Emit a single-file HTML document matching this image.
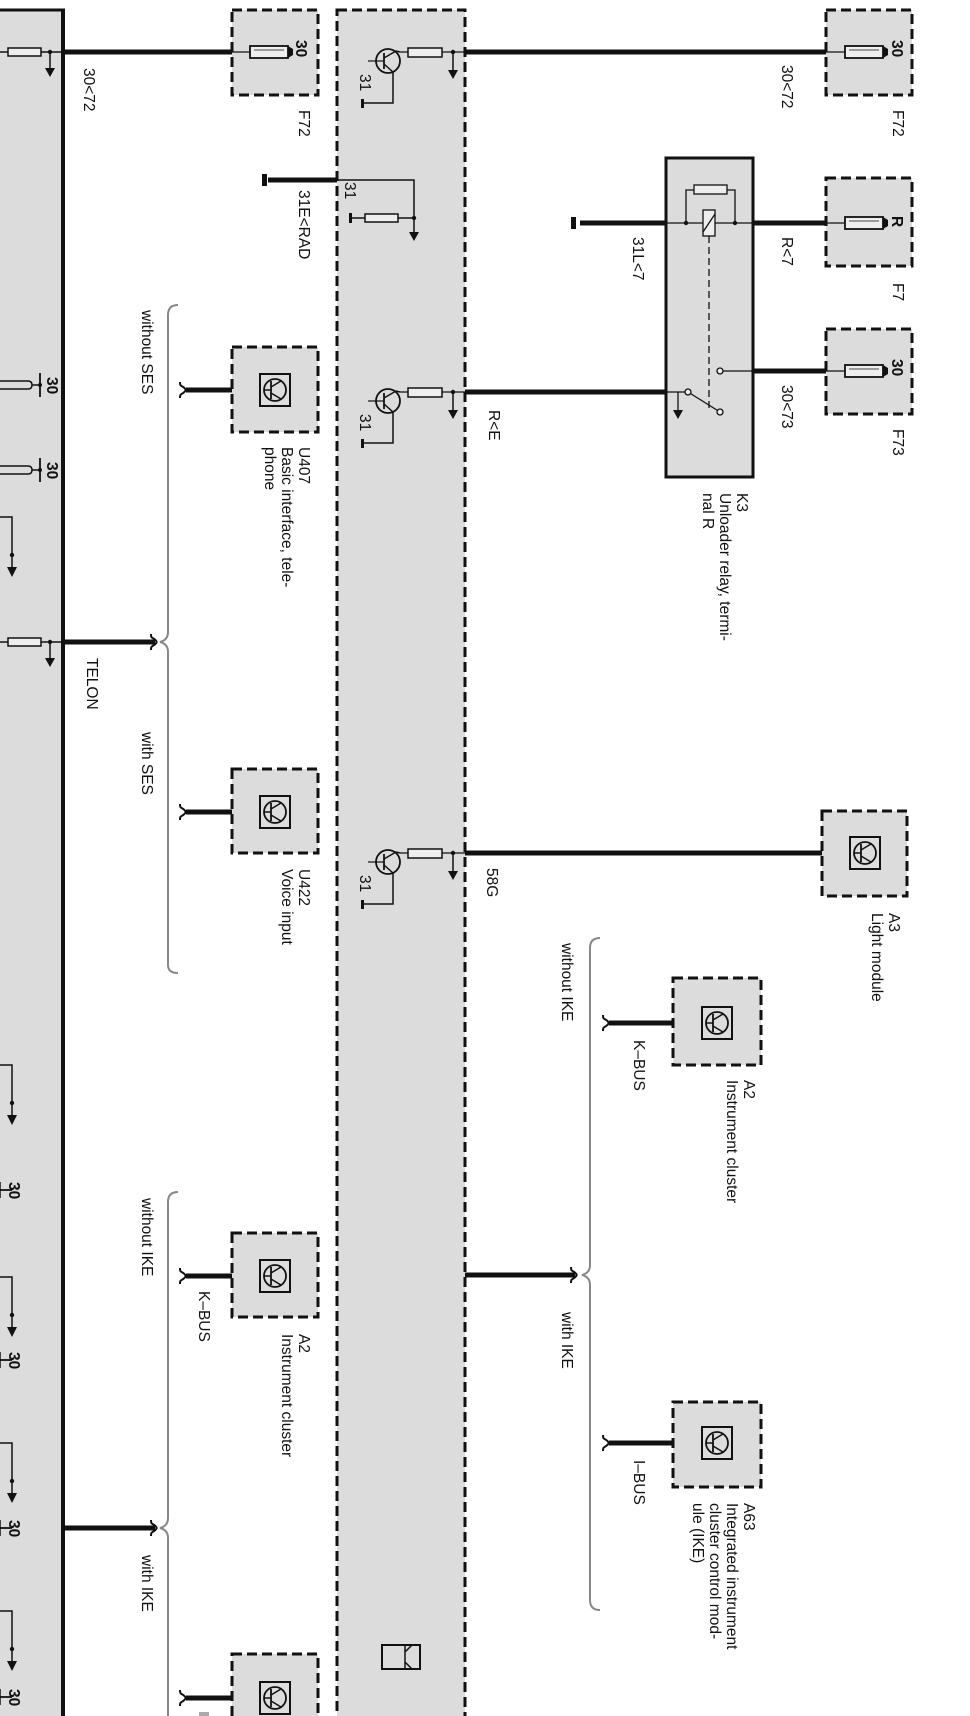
<!DOCTYPE html>
<html><head><meta charset="utf-8"><style>
html,body{margin:0;padding:0;background:#fff}
svg{display:block}
text{font-family:"Liberation Sans",sans-serif;font-size:15.5px;fill:#111}
</style></head><body>
<svg width="970" height="1716" viewBox="0 0 970 1716" xmlns="http://www.w3.org/2000/svg">
<defs>
<g id="fuse"><rect x="0" y="-6" width="38" height="12" fill="#eee" stroke="#111" stroke-width="1.8"/><line x1="4" y1="-2" x2="34" y2="-2" stroke="#111" stroke-width="0.8"/><path d="M38,-6 L43,-3 L43,3 L38,6 Z" fill="#111"/></g>
<g id="mod"><rect x="-15" y="-16" width="30" height="32" fill="#ddd" stroke="#111" stroke-width="2"/><circle cx="0" cy="0" r="11" fill="none" stroke="#111" stroke-width="1.8"/><line x1="-4" y1="-9" x2="-4" y2="9" stroke="#111" stroke-width="1.8"/><line x1="-11" y1="0" x2="-4" y2="0" stroke="#111" stroke-width="1.5"/><path d="M-4,-3 L6,-9 M-4,3 L6,9" stroke="#111" stroke-width="1.5" fill="none"/></g>
<g id="tr">
<line x1="400" y1="0" x2="465" y2="0" stroke="#111" stroke-width="1.2"/>
<rect x="408" y="-4" width="34" height="9" fill="#eee" stroke="#111" stroke-width="1.5"/>
<circle cx="453" cy="0" r="2.2" fill="#111"/>
<line x1="453" y1="0" x2="453" y2="22" stroke="#111" stroke-width="1.5"/>
<path d="M448,18 L458,18 L453,27 Z" fill="#111"/>
<circle cx="388" cy="9" r="12" fill="none" stroke="#111" stroke-width="1.8"/>
<line x1="384" y1="1" x2="384" y2="17" stroke="#111" stroke-width="1.8"/>
<line x1="368" y1="9" x2="384" y2="9" stroke="#111" stroke-width="1.2"/>
<path d="M384,6 L396,-1 L400,0 M384,12 L393,20" stroke="#111" stroke-width="1.5" fill="none"/>
<path d="M393,20 L393,51 L364,51" stroke="#111" stroke-width="1.5" fill="none"/>
<rect x="361" y="47" width="3" height="9" fill="#111"/>
<text transform="translate(360,22) rotate(90)" font-size="14">31</text>
</g>
<g id="br"><path d="M0,0 L12,0 L12,56" stroke="#111" stroke-width="1.5" fill="none"/><circle cx="12" cy="38" r="2.2" fill="#111"/><path d="M7,50 L17,50 L12,60 Z" fill="#111"/></g>
<g id="u30"><path d="M0,-4 L28,-4 Q32,-4 32,0 Q32,4 28,4 L0,4" stroke="#111" stroke-width="1.5" fill="none"/><line x1="32" y1="0" x2="40" y2="0" stroke="#111" stroke-width="1.5"/><line x1="40" y1="-12" x2="40" y2="12" stroke="#111" stroke-width="1.8"/><circle cx="40" cy="0" r="2" fill="#111"/><text transform="translate(47,-8) rotate(90)" font-size="13" font-weight="bold">30</text></g>
<g id="t30"><line x1="0" y1="0" x2="12" y2="0" stroke="#111" stroke-width="1.8"/><line x1="0" y1="-8" x2="0" y2="8" stroke="#111" stroke-width="1.5"/><text transform="translate(9,-8) rotate(90)" font-size="13" font-weight="bold">30</text></g>
<g id="hook"><path d="M0,0 C-4,-6 -6,-2 -6,-8 M0,0 C-4,6 -6,2 -6,8" stroke="#111" stroke-width="2" fill="none"/></g>
</defs>

<rect x="0" y="10" width="63" height="1706" fill="#dcdcdc"/>
<line x1="63" y1="10" x2="63" y2="1716" stroke="#111" stroke-width="4"/>
<line x1="0" y1="10" x2="65" y2="10" stroke="#111" stroke-width="3"/>
<g stroke="#111" stroke-width="1.5" fill="none">
<line x1="0" y1="52" x2="63" y2="52"/><rect x="8" y="48" width="33" height="8" fill="#eee"/>
<line x1="50" y1="52" x2="50" y2="72"/>
<line x1="0" y1="642" x2="63" y2="642"/><rect x="8" y="638" width="33" height="8" fill="#eee"/>
<line x1="50" y1="642" x2="50" y2="662"/>
</g>
<circle cx="50" cy="52" r="2.2" fill="#111"/><path d="M45,68 L55,68 L50,77 Z" fill="#111"/>
<circle cx="50" cy="642" r="2.2" fill="#111"/><path d="M45,658 L55,658 L50,667 Z" fill="#111"/>
<use href="#u30" x="0" y="385"/>
<use href="#u30" x="0" y="470"/>
<use href="#br" x="0" y="517"/>
<use href="#br" x="0" y="1065"/>
<use href="#br" x="0" y="1277"/>
<use href="#br" x="0" y="1443"/>
<use href="#br" x="0" y="1611"/>
<use href="#t30" x="0" y="1190"/>
<use href="#t30" x="0" y="1360"/>
<use href="#t30" x="0" y="1528"/>
<use href="#t30" x="0" y="1697"/>

<rect x="337" y="10" width="128" height="1720" fill="#dcdcdc" stroke="#111" stroke-width="3" stroke-dasharray="10 5"/>
<use href="#tr" x="0" y="52"/>
<use href="#tr" x="0" y="392"/>
<use href="#tr" x="0" y="853"/>
<g stroke="#111" stroke-width="1.5" fill="none">
<path d="M337,180 L414,180 L414,232"/>
<line x1="352" y1="218" x2="414" y2="218"/>
<rect x="365" y="214" width="33" height="8" fill="#eee"/>
</g>
<circle cx="414" cy="218" r="2.2" fill="#111"/>
<path d="M409,232 L419,232 L414,241 Z" fill="#111"/>
<rect x="349" y="213" width="3" height="10" fill="#111"/>
<text transform="translate(345,182) rotate(90)" font-size="14">31</text>
<rect x="382" y="1645" width="38" height="24" fill="none" stroke="#111" stroke-width="2"/>
<path d="M405,1645 L405,1669 M405,1652 L412,1645 M405,1662 L412,1669" stroke="#111" stroke-width="1.5" fill="none"/>

<rect x="232" y="10" width="86" height="85" fill="#dcdcdc" stroke="#111" stroke-width="3" stroke-dasharray="10 5"/>
<line x1="63" y1="52" x2="232" y2="52" stroke="#111" stroke-width="5"/>
<line x1="232" y1="52" x2="250" y2="52" stroke="#111" stroke-width="1.2"/>
<use href="#fuse" x="250" y="52"/>
<text transform="translate(296,40) rotate(90)" font-size="14" font-weight="bold">30</text>
<text transform="translate(84,68) rotate(90)">30&lt;72</text>
<text transform="translate(299,110) rotate(90)">F72</text>
<line x1="268" y1="180" x2="337" y2="180" stroke="#111" stroke-width="5"/>
<rect x="262" y="174" width="5" height="12" fill="#111"/>
<text transform="translate(299,190) rotate(90)">31E&lt;RAD</text>

<line x1="465" y1="52" x2="826" y2="52" stroke="#111" stroke-width="5"/>
<rect x="826" y="10" width="86" height="85" fill="#dcdcdc" stroke="#111" stroke-width="3" stroke-dasharray="10 5"/>
<line x1="826" y1="52" x2="845" y2="52" stroke="#111" stroke-width="1.2"/>
<use href="#fuse" x="845" y="52"/>
<text transform="translate(892,40) rotate(90)" font-size="14" font-weight="bold">30</text>
<text transform="translate(782,65) rotate(90)">30&lt;72</text>
<text transform="translate(893,110) rotate(90)">F72</text>

<rect x="666" y="158" width="87" height="319" fill="#dcdcdc" stroke="#111" stroke-width="3"/>
<line x1="580" y1="223" x2="666" y2="223" stroke="#111" stroke-width="5"/>
<rect x="571" y="217" width="5" height="12" fill="#111"/>
<line x1="753" y1="223" x2="826" y2="223" stroke="#111" stroke-width="5"/>
<g stroke="#111" stroke-width="1.3" fill="none">
<line x1="666" y1="223" x2="753" y2="223"/>
<path d="M686,223 L686,190 L735,190 L735,223"/>
<rect x="694" y="185" width="33" height="9" fill="#eee"/>
<rect x="703" y="210" width="12" height="26" fill="#eee"/>
<line x1="703" y1="232" x2="715" y2="214"/>
<line x1="709" y1="236" x2="709" y2="412" stroke-dasharray="7 4"/>
<line x1="720" y1="371" x2="753" y2="371"/>
<line x1="666" y1="392" x2="688" y2="392"/>
<line x1="688" y1="392" x2="720" y2="412"/>
<line x1="678" y1="392" x2="678" y2="412"/>
<circle cx="720" cy="371" r="3" fill="#eee"/>
<circle cx="688" cy="392" r="3" fill="#eee"/>
<circle cx="720" cy="412" r="3" fill="#eee"/>
</g>
<circle cx="686" cy="223" r="2.2" fill="#111"/><circle cx="735" cy="223" r="2.2" fill="#111"/>
<path d="M673,410 L683,410 L678,419 Z" fill="#111"/>
<line x1="753" y1="371" x2="826" y2="371" stroke="#111" stroke-width="5"/>
<line x1="465" y1="392" x2="666" y2="392" stroke="#111" stroke-width="5"/>
<text transform="translate(633,237) rotate(90)">31L&lt;7</text>
<text transform="translate(782,237) rotate(90)">R&lt;7</text>
<text transform="translate(782,385) rotate(90)">30&lt;73</text>
<text transform="translate(489,410) rotate(90)">R&lt;E</text>
<text transform="translate(737,493) rotate(90)">K3</text>
<text transform="translate(720,493) rotate(90)">Unloader relay, termi-</text>
<text transform="translate(703,493) rotate(90)">nal R</text>
<rect x="826" y="178" width="86" height="88" fill="#dcdcdc" stroke="#111" stroke-width="3" stroke-dasharray="10 5"/>
<line x1="826" y1="223" x2="845" y2="223" stroke="#111" stroke-width="1.2"/>
<use href="#fuse" x="845" y="223"/>
<text transform="translate(892,216) rotate(90)" font-size="14" font-weight="bold">R</text>
<text transform="translate(893,283) rotate(90)">F7</text>
<rect x="826" y="329" width="86" height="85" fill="#dcdcdc" stroke="#111" stroke-width="3" stroke-dasharray="10 5"/>
<line x1="826" y1="371" x2="845" y2="371" stroke="#111" stroke-width="1.2"/>
<use href="#fuse" x="845" y="371"/>
<text transform="translate(892,359) rotate(90)" font-size="14" font-weight="bold">30</text>
<text transform="translate(893,429) rotate(90)">F73</text>

<path d="M178,305 Q168,305 168,315 L168,632 Q168,640 160,642 Q168,644 168,652 L168,965 Q168,973 178,973" stroke="#888" stroke-width="2" fill="none"/>
<text transform="translate(142,310) rotate(90)">without SES</text>
<text transform="translate(142,732) rotate(90)">with SES</text>
<line x1="63" y1="642" x2="155" y2="642" stroke="#111" stroke-width="5"/>
<use href="#hook" x="157" y="642"/>
<text transform="translate(87,658) rotate(90)">TELON</text>
<rect x="232" y="347" width="86" height="85" fill="#dcdcdc" stroke="#111" stroke-width="3" stroke-dasharray="10 5"/>
<line x1="186" y1="390" x2="232" y2="390" stroke="#111" stroke-width="5"/>
<use href="#hook" x="186" y="390"/>
<use href="#mod" x="275" y="390"/>
<text transform="translate(299,447) rotate(90)">U407</text>
<text transform="translate(282,447) rotate(90)">Basic interface, tele-</text>
<text transform="translate(265,447) rotate(90)">phone</text>
<rect x="232" y="769" width="86" height="84" fill="#dcdcdc" stroke="#111" stroke-width="3" stroke-dasharray="10 5"/>
<line x1="186" y1="812" x2="232" y2="812" stroke="#111" stroke-width="5"/>
<use href="#hook" x="186" y="812"/>
<use href="#mod" x="275" y="812"/>
<text transform="translate(299,869) rotate(90)">U422</text>
<text transform="translate(282,869) rotate(90)">Voice input</text>

<line x1="465" y1="853" x2="822" y2="853" stroke="#111" stroke-width="5"/>
<rect x="822" y="811" width="85" height="85" fill="#dcdcdc" stroke="#111" stroke-width="3" stroke-dasharray="10 5"/>
<use href="#mod" x="865" y="853"/>
<text transform="translate(487,868) rotate(90)">58G</text>
<text transform="translate(889,913) rotate(90)">A3</text>
<text transform="translate(872,913) rotate(90)">Light module</text>

<path d="M600,938 Q590,938 590,948 L590,1265 Q590,1273 582,1275 Q590,1277 590,1285 L590,1600 Q590,1610 600,1610" stroke="#888" stroke-width="2" fill="none"/>
<text transform="translate(562,943) rotate(90)">without IKE</text>
<text transform="translate(562,1312) rotate(90)">with IKE</text>
<line x1="465" y1="1275" x2="575" y2="1275" stroke="#111" stroke-width="5"/>
<use href="#hook" x="577" y="1275"/>
<rect x="673" y="978" width="88" height="87" fill="#dcdcdc" stroke="#111" stroke-width="3" stroke-dasharray="10 5"/>
<line x1="609" y1="1023" x2="673" y2="1023" stroke="#111" stroke-width="5"/>
<use href="#hook" x="609" y="1023"/>
<use href="#mod" x="717" y="1023"/>
<text transform="translate(634,1040) rotate(90)">K–BUS</text>
<text transform="translate(744,1080) rotate(90)">A2</text>
<text transform="translate(727,1080) rotate(90)">Instrument cluster</text>
<rect x="673" y="1402" width="88" height="85" fill="#dcdcdc" stroke="#111" stroke-width="3" stroke-dasharray="10 5"/>
<line x1="609" y1="1443" x2="673" y2="1443" stroke="#111" stroke-width="5"/>
<use href="#hook" x="609" y="1443"/>
<use href="#mod" x="717" y="1443"/>
<text transform="translate(634,1460) rotate(90)">I–BUS</text>
<text transform="translate(744,1503) rotate(90)">A63</text>
<text transform="translate(727,1503) rotate(90)">Integrated instrument</text>
<text transform="translate(710,1503) rotate(90)">cluster control mod-</text>
<text transform="translate(693,1503) rotate(90)">ule (IKE)</text>

<path d="M178,1192 Q168,1192 168,1202 L168,1518 Q168,1526 160,1528 Q168,1530 168,1538 L168,1716" stroke="#888" stroke-width="2" fill="none"/>
<text transform="translate(142,1198) rotate(90)">without IKE</text>
<text transform="translate(142,1555) rotate(90)">with IKE</text>
<line x1="63" y1="1528" x2="155" y2="1528" stroke="#111" stroke-width="5"/>
<use href="#hook" x="157" y="1528"/>
<rect x="232" y="1233" width="86" height="84" fill="#dcdcdc" stroke="#111" stroke-width="3" stroke-dasharray="10 5"/>
<line x1="186" y1="1276" x2="232" y2="1276" stroke="#111" stroke-width="5"/>
<use href="#hook" x="186" y="1276"/>
<use href="#mod" x="275" y="1276"/>
<text transform="translate(199,1291) rotate(90)">K–BUS</text>
<text transform="translate(299,1334) rotate(90)">A2</text>
<text transform="translate(282,1334) rotate(90)">Instrument cluster</text>
<rect x="232" y="1654" width="86" height="80" fill="#dcdcdc" stroke="#111" stroke-width="3" stroke-dasharray="10 5"/>
<line x1="186" y1="1698" x2="232" y2="1698" stroke="#111" stroke-width="5"/>
<use href="#hook" x="186" y="1698"/>
<use href="#mod" x="275" y="1698"/>
<rect x="199" y="1712" width="10" height="4" fill="#aaa"/>
</svg>
</body></html>
